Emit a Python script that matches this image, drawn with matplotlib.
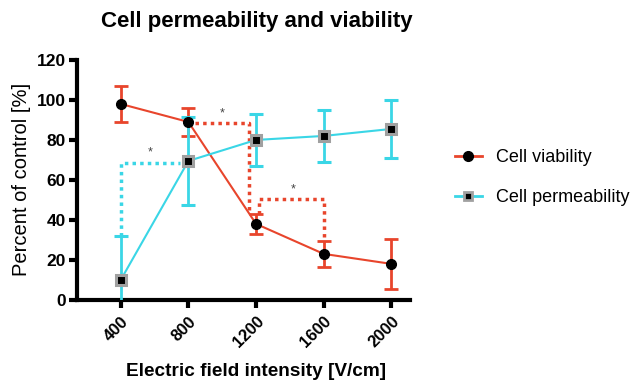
import matplotlib.pyplot as plt
from matplotlib.lines import Line2D
import numpy as np

plt.rcParams["font.family"] = ["Liberation Sans", "DejaVu Sans"]

fields = ["400", "800", "1200", "1600", "2000"]
viability = [98, 89, 38, 23, 18]
viability_err = [9, 7, 5, 6.5, 12.5]
permeability = [10, 69.5, 80, 82, 85.5]
permeability_err = [22, 22, 13, 13, 14.5]

red = "#e8452c"
cyan = "#3ad6e6"

fig = plt.figure(figsize=(6.4, 3.82), dpi=100)
ax = fig.add_axes([0.120, 0.215, 0.52, 0.628])
x = np.arange(len(fields))

ax.errorbar(x, viability, yerr=viability_err, color=red, lw=1.5,
            marker="o", ms=7, mfc="black", mec="black",
            ecolor=red, elinewidth=2, capsize=5, capthick=2, zorder=3)
ax.errorbar(x, permeability, yerr=permeability_err, color=cyan, lw=1.5,
            marker="s", ms=7, mfc="black", mec="#a0a0a0", mew=2.2,
            ecolor=cyan, elinewidth=2, capsize=5, capthick=2, zorder=3)

# significance brackets
dot = dict(ls=(0, (1, 1.2)), lw=2.5, zorder=2)
ax.plot([0, 0, 0.88], [32, 68.5, 68.5], color=cyan, **dot)
ax.text(0.44, 72, "*", ha="center", fontsize=9, color="#444444")
ax.plot([1.1, 1.9, 1.9], [88.5, 88.5, 44], color=red, **dot)
ax.text(1.5, 92, "*", ha="center", fontsize=9, color="#444444")
ax.plot([2.05, 2.05, 3.0, 3.0], [43, 50.5, 50.5, 31.5], color=red, **dot)
ax.text(2.55, 53.5, "*", ha="center", fontsize=9, color="#444444")

ax.set_xlim(-0.65, 4.27)
ax.set_ylim(0, 120)
ax.set_yticks(range(0, 121, 20))
ax.set_xticks(x)
ax.set_xticklabels(fields, rotation=45, ha="right", rotation_mode="anchor")
for lab in ax.get_yticklabels():
    lab.set_fontweight("bold")
    lab.set_fontsize(12.5)
for lab in ax.get_xticklabels():
    lab.set_fontweight("bold")
    lab.set_fontsize(12)

for s in ["top", "right"]:
    ax.spines[s].set_visible(False)
for s in ["left", "bottom"]:
    ax.spines[s].set_linewidth(3)
ax.tick_params(width=3, length=6, pad=2)
ax.tick_params(axis="x", pad=4)

ax.set_ylabel("Percent of control [%]", fontsize=14.5, labelpad=4)
ax.set_xlabel("Electric field intensity [V/cm]", fontsize=13.7,
              fontweight="bold")
ax.xaxis.set_label_coords(0.54, -0.265)
fig.text(0.402, 0.945, "Cell permeability and viability", fontsize=16,
         fontweight="bold", ha="center", va="center")

handles = [
    Line2D([], [], color=red, lw=2, marker="o", ms=7, mfc="black", mec="black"),
    Line2D([], [], color=cyan, lw=2, marker="s", ms=6, mfc="black",
           mec="#a0a0a0", mew=2),
]
fig.legend(handles, ["Cell viability", "Cell permeability"],
           loc="center left", bbox_to_anchor=(0.685, 0.535), frameon=False,
           fontsize=13, handlelength=1.5, handletextpad=0.8,
           labelspacing=1.25)

fig.savefig("out.png", dpi=100)
